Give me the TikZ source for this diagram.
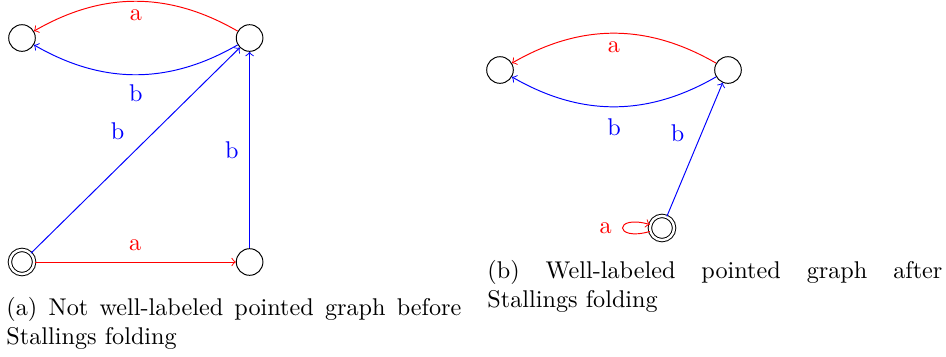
\documentclass[tikz,border=0pt]{standalone}
\usetikzlibrary{arrows}
\begin{document}
\begin{tikzpicture}[x=0.4132pt,y=-0.4132pt,
  st/.style={draw,circle,inner sep=0pt,minimum size=11pt},
  init/.style={st,double,double distance=1pt,minimum size=10pt},
  ra/.style={->,red},
  ba/.style={->,blue},
  lr/.style={text=red},
  lb/.style={text=blue},
  captxt/.style={anchor=north west,text width=188pt,align=justify,inner sep=0pt,font=\normalsize}]
\useasboundingbox (0,0) rectangle (946,356);
% panel a
\node[st] (a1) at (22,38) {};
\node[st] (a2) at (249.6,38) {};
\node[init] (a3) at (22,262) {};
\node[st] (a4) at (249.6,262) {};
\draw[ra] (a2) to[bend right=30] node[lr,below=0pt] {a} (a1);
\draw[ba] (a2) to[bend left=30] node[lb,below=0.5pt] {b} (a1);
\draw[ba] (a3) -- node[lb,above left=1pt] {b} (a2);
\draw[ba] (a4) -- node[lb,left=1pt] {b} (a2);
\draw[ra] (a3) -- node[lr,above=1pt] {a} (a4);
% panel b
\node[st] (b1) at (500,70) {};
\node[st] (b2) at (728,70) {};
\node[init] (b3) at (662,228) {};
\draw[ra] (b2) to[bend right=30] node[lr,below=0pt] {a} (b1);
\draw[ba] (b2) to[bend left=30] node[lb,below=1.5pt] {b} (b1);
\draw[ba] (b3) -- node[lb,left=3.5pt,pos=0.62] {b} (b2);
\draw[ra] (b3) to[out=196,in=164,min distance=5.5mm,looseness=5] coordinate[pos=0.5] (lp) (b3);
\node[lr,anchor=east] (la) at ([xshift=-1pt]lp) {a};
% captions
\node[captxt] (ca) at (6,297) {(a) Not well-labeled pointed graph before Stallings folding};
\node[captxt] (cb) at (487,260) {(b) Well-labeled pointed graph after Stallings folding};
\end{tikzpicture}
\end{document}
